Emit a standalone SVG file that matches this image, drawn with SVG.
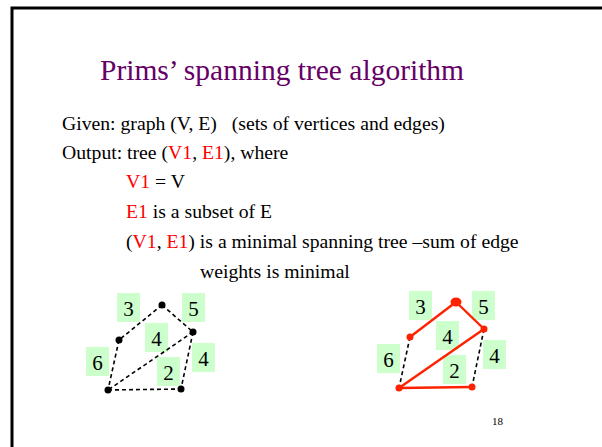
<svg xmlns="http://www.w3.org/2000/svg" width="602" height="447" viewBox="0 0 602 447">
<style>
.t{font-family:"Liberation Serif","Times New Roman",serif;fill:#000}
.body{font-size:19.7px}
.r{fill:#ff0000}
.lb{fill:#ccffcc}
.num{font-family:"Liberation Serif","Times New Roman",serif;font-size:21px;fill:#000;text-anchor:middle}
.d{stroke:#000;stroke-width:1.6;stroke-dasharray:4,3;fill:none}
.s{stroke:#ff2200;stroke-width:2.4;fill:none}
</style>
<rect width="602" height="447" fill="#fff"/>
<path d="M12 447 V8 H602" fill="none" stroke="#000" stroke-width="3"/>
<text x="100" y="80" class="t" style="font-size:29.5px;fill:#660066">Prims’ spanning tree algorithm</text>
<text x="62" y="130" class="t body" xml:space="preserve">Given: graph (V, E)   (sets of vertices and edges)</text>
<text x="62" y="159" class="t body">Output: tree (<tspan class="r">V1</tspan>, <tspan class="r">E1</tspan>), where</text>
<text x="126" y="188" class="t body"><tspan class="r">V1</tspan> = V</text>
<text x="126" y="218" class="t body"><tspan class="r">E1</tspan> is a subset of E</text>
<text x="126" y="248" class="t body">(<tspan class="r">V1</tspan>, <tspan class="r">E1</tspan>) is a minimal spanning tree –sum of edge</text>
<text x="200" y="278" class="t body">weights is minimal</text>
<text x="492" y="425" class="t" style="font-size:11px">18</text>

<g id="left-labels">
<rect class="lb" x="117" y="293" width="23" height="29"/><text class="num" x="128.5" y="316">3</text>
<rect class="lb" x="182" y="293" width="23" height="29"/><text class="num" x="193.5" y="316">5</text>
<rect class="lb" x="145" y="323" width="23" height="29"/><text class="num" x="156.5" y="346">4</text>
<rect class="lb" x="86" y="347" width="23" height="29"/><text class="num" x="97.5" y="370">6</text>
<rect class="lb" x="192" y="343" width="23" height="29"/><text class="num" x="203.5" y="366">4</text>
<rect class="lb" x="157" y="357" width="23" height="29"/><text class="num" x="168.5" y="380">2</text>
</g>
<g id="right-labels">
<rect class="lb" x="409" y="291" width="23" height="29"/><text class="num" x="420.5" y="314">3</text>
<rect class="lb" x="472" y="291" width="23" height="29"/><text class="num" x="483.5" y="314">5</text>
<rect class="lb" x="436" y="321" width="23" height="29"/><text class="num" x="447.5" y="344">4</text>
<rect class="lb" x="377" y="344" width="23" height="29"/><text class="num" x="388.5" y="367">6</text>
<rect class="lb" x="483" y="340" width="23" height="29"/><text class="num" x="494.5" y="363">4</text>
<rect class="lb" x="443" y="355" width="23" height="29"/><text class="num" x="454.5" y="378">2</text>
</g>
<g id="connectors">
<path class="d" d="M162 305 L119 340"/>
<path class="d" d="M162 305 L193 332"/>
<path class="d" d="M119 340 L108 390"/>
<path class="d" d="M193 332 L108 390"/>
<path class="d" d="M193 332 L181 389"/>
<path class="d" d="M108 390 L181 389"/>
<path class="s" d="M456 302 L410 337"/>
<path class="s" d="M456 302 L484 329"/>
<path class="d" d="M410 337 L399 388"/>
<path class="s" d="M484 329 L399 388"/>
<path class="d" d="M484 329 L472 387"/>
<path class="s" d="M399 388 L472 387"/>
</g>
<g id="n1"><circle cx="162" cy="305" r="3.5" fill="#000"/></g>
<g id="n2"><circle cx="119" cy="340" r="3.5" fill="#000"/></g>
<g id="n3"><circle cx="193" cy="332" r="3.5" fill="#000"/></g>
<g id="n4"><circle cx="108" cy="390" r="3.5" fill="#000"/></g>
<g id="n5"><circle cx="181" cy="389" r="3.5" fill="#000"/></g>
<g id="m1"><ellipse cx="456" cy="302" rx="5.5" ry="4.5" fill="#ff2200"/></g>
<g id="m2"><circle cx="410" cy="337" r="3.5" fill="#ff2200"/></g>
<g id="m3"><circle cx="484" cy="329" r="3.5" fill="#ff2200"/></g>
<g id="m4"><circle cx="399" cy="388" r="3.5" fill="#ff2200"/></g>
<g id="m5"><circle cx="472" cy="387" r="3.5" fill="#ff2200"/></g>
</svg>
